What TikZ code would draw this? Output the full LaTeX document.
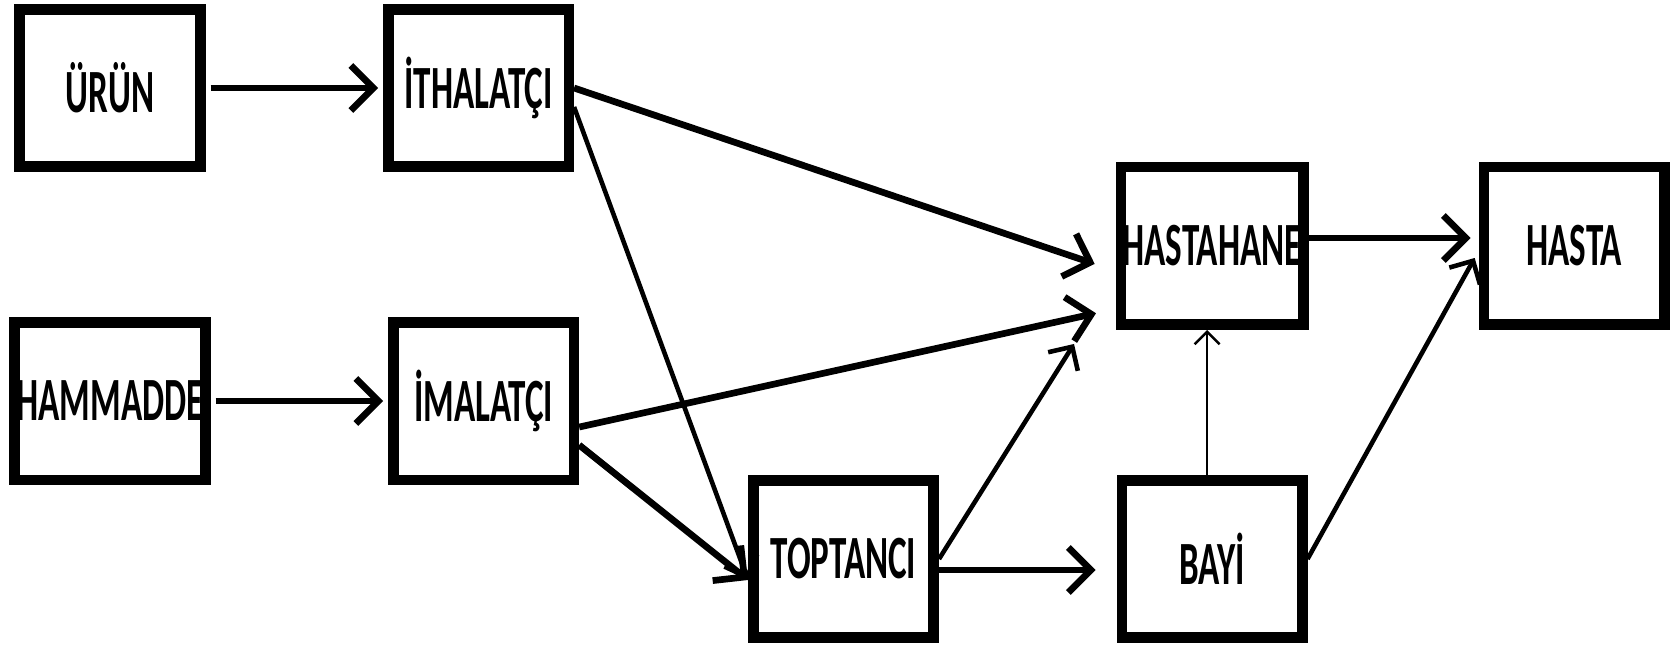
\documentclass[tikz,border=0pt]{standalone}
\usepackage{fontspec}
\newfontfamily\boxfont[FakeStretch=0.57]{Carlito}
\usetikzlibrary{arrows.meta, positioning}

\begin{document}
\begin{tikzpicture}[
            node distance=2.9cm and 3.55cm,
            box/.style={rectangle, draw=black, line width=6pt, fill=white,
                        minimum width=3.61cm, minimum height=3.15cm, inner sep=1pt, align=center,
                        font=\boxfont\bfseries\fontsize{35}{36}\selectfont},
            arrow/.style={-{Straight Barb[length=4.5mm, width=9mm]}, line width=3.8pt},
            midarrow/.style={-{Straight Barb[length=3.5mm, width=7mm]}, line width=2.6pt},
            thinarrow/.style={-{Straight Barb[length=2.5mm, width=5mm]}, line width=1.4pt}
        ]
            \useasboundingbox (0,0) rectangle (33.5,-12.94);

            \node[box] (urun) at (2.2,-1.76) {ÜRÜN};
            \node[box, right=of urun] (ithalatci) {İTHALATÇI};
            \node[box, below=of urun] (hammadde) {HAMMADDE};
            \node[box, right=of hammadde] (imalatci) {İMALATÇI};
            \node[box] (toptanci) at (16.87,-11.18) {TOPTANCI};
            \node[box, right=of toptanci] (bayi) {BAYİ};
            \node[box, above=of bayi] (hastahane) {HASTAHANE};
            \node[box, right=3.4cm of hastahane] (hasta) {HASTA};
            \coordinate[below left=0.28cm and 0.83cm of hastahane.south west] (hcorner);

            \draw[arrow, shorten <=0.1cm, shorten >=0.1cm] (urun) -- (ithalatci);
            \draw[arrow, shorten <=0.1cm, shorten >=0.1cm] (hammadde) -- (imalatci);
            \draw[arrow, shorten >=0.44cm] (ithalatci.east) -- ([yshift=-0.5cm]hastahane.west);
            \draw[arrow, shorten >=0.4cm] ([yshift=-0.52cm]imalatci.east) -- ([yshift=-1.26cm]hastahane.west);
            \draw[midarrow] ([yshift=-0.38cm]ithalatci.east) -- ([yshift=-0.42cm]toptanci.west);
            \draw[arrow] ([yshift=-0.88cm]imalatci.east) -- ([yshift=-0.42cm]toptanci.west);
            \draw[midarrow] (toptanci.east) -- (hcorner);
            \draw[arrow, shorten >=0.42cm] ([yshift=-0.22cm]toptanci.east) -- ([yshift=-0.22cm]bayi.west);
            \draw[thinarrow] ([xshift=-0.1cm]bayi.north) -- ([xshift=-0.1cm]hastahane.south);
            \draw[arrow, shorten >=0.16cm] ([yshift=0.16cm]hastahane.east) -- ([yshift=0.16cm]hasta.west);
            \draw[midarrow, shorten >=0.16cm] (bayi.east) -- ([yshift=-0.1cm]hasta.west);
        \end{tikzpicture}
\end{document}
